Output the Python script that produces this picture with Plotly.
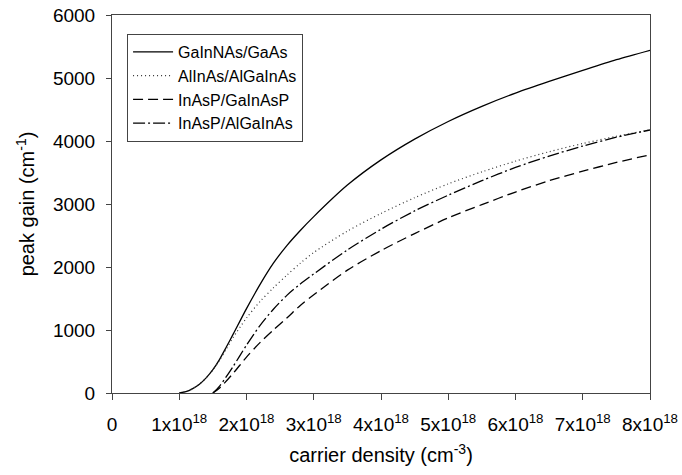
import plotly.graph_objects as go

# carrier density in units of 1e18 cm^-3
x_ga = [1.0, 1.1, 1.2, 1.3, 1.4, 1.5, 1.6, 1.7, 1.8, 2.0, 2.2, 2.4, 2.6, 2.8, 3.0, 3.5, 4.0, 4.5, 5.0, 5.5, 6.0, 6.5, 7.0, 7.5, 8.0]
y_gainnas = [0, 20, 70, 140, 240, 370, 535, 730, 930, 1340, 1720, 2060, 2340, 2580, 2800, 3300, 3700, 4030, 4310, 4550, 4760, 4945, 5120, 5290, 5440]
y_alinas = [0, 20, 70, 140, 240, 365, 520, 700, 880, 1190, 1450, 1670, 1870, 2060, 2230, 2570, 2850, 3100, 3320, 3510, 3680, 3830, 3960, 4075, 4175]

x_inasp = [1.5, 1.6, 1.8, 2.0, 2.2, 2.4, 2.6, 2.8, 3.0, 3.5, 4.0, 4.5, 5.0, 5.5, 6.0, 6.5, 7.0, 7.5, 8.0]
y_inasp_algainas = [0, 110, 420, 760, 1070, 1330, 1550, 1730, 1890, 2270, 2600, 2890, 3140, 3370, 3580, 3760, 3920, 4060, 4175]
y_inasp_gainasp = [0, 80, 310, 570, 800, 1000, 1190, 1390, 1560, 1950, 2260, 2530, 2780, 2990, 3190, 3370, 3520, 3660, 3780]

x_ticks = [0, 1, 2, 3, 4, 5, 6, 7, 8]
x_ticktext = ["0"] + [f"{i}x10<sup>18</sup>" for i in range(1, 9)]
y_ticks = [0, 1000, 2000, 3000, 4000, 5000, 6000]

names = ["GaInNAs/GaAs", "AlInAs/AlGaInAs", "InAsP/GaInAsP", "InAsP/AlGaInAs"]

fig = go.Figure()
fig.add_trace(go.Scatter(x=x_ga, y=y_gainnas, name=names[0], mode="lines",
                         line=dict(color="black", width=1.3, shape="spline", smoothing=0.8)))
fig.add_trace(go.Scatter(x=x_ga, y=y_alinas, name=names[1], mode="lines",
                         line=dict(color="#333", width=1.2, dash="1px,3px", shape="spline", smoothing=0.8)))
fig.add_trace(go.Scatter(x=x_inasp, y=y_inasp_gainasp, name=names[2], mode="lines",
                         line=dict(color="black", width=1.3, dash="10px,5px", shape="spline", smoothing=0.8)))
fig.add_trace(go.Scatter(x=x_inasp, y=y_inasp_algainas, name=names[3], mode="lines",
                         line=dict(color="black", width=1.3, dash="12px,3px,2px,3px", shape="spline", smoothing=0.8)))

font = "Liberation Sans, Arial, sans-serif"
fig.update_layout(
    width=682, height=475,
    margin=dict(l=112, r=32, t=15, b=82, autoexpand=False),
    paper_bgcolor="white", plot_bgcolor="white",
    font=dict(family=font, size=19, color="black"),
    showlegend=True,
    legend=dict(x=0.028, y=0.95, xanchor="left", yanchor="top",
                bordercolor="#444", borderwidth=1, bgcolor="white",
                font=dict(family=font, size=16), itemwidth=40, tracegroupgap=0),
)
fig.update_xaxes(range=[0, 8], tickvals=x_ticks, ticktext=x_ticktext, automargin=False,
                 showgrid=False, zeroline=False, showline=True, linecolor="#444", linewidth=1,
                 mirror=True, ticks="outside", ticklen=6, tickcolor="#444", ticklabelstandoff=8,
                 title=dict(text="carrier density (cm<sup>-3</sup>)", standoff=14,
                            font=dict(family=font, size=20, color="black")))
fig.update_yaxes(range=[0, 6000], tickvals=y_ticks, automargin=False,
                 showgrid=False, zeroline=False, showline=True, linecolor="#444", linewidth=1,
                 mirror=True, ticks="outside", ticklen=5, tickcolor="#444", ticklabelstandoff=7,
                 title=dict(text="peak gain (cm<sup>-1</sup>)", standoff=12,
                            font=dict(family=font, size=20, color="black")))

fig.write_html("out.html")
